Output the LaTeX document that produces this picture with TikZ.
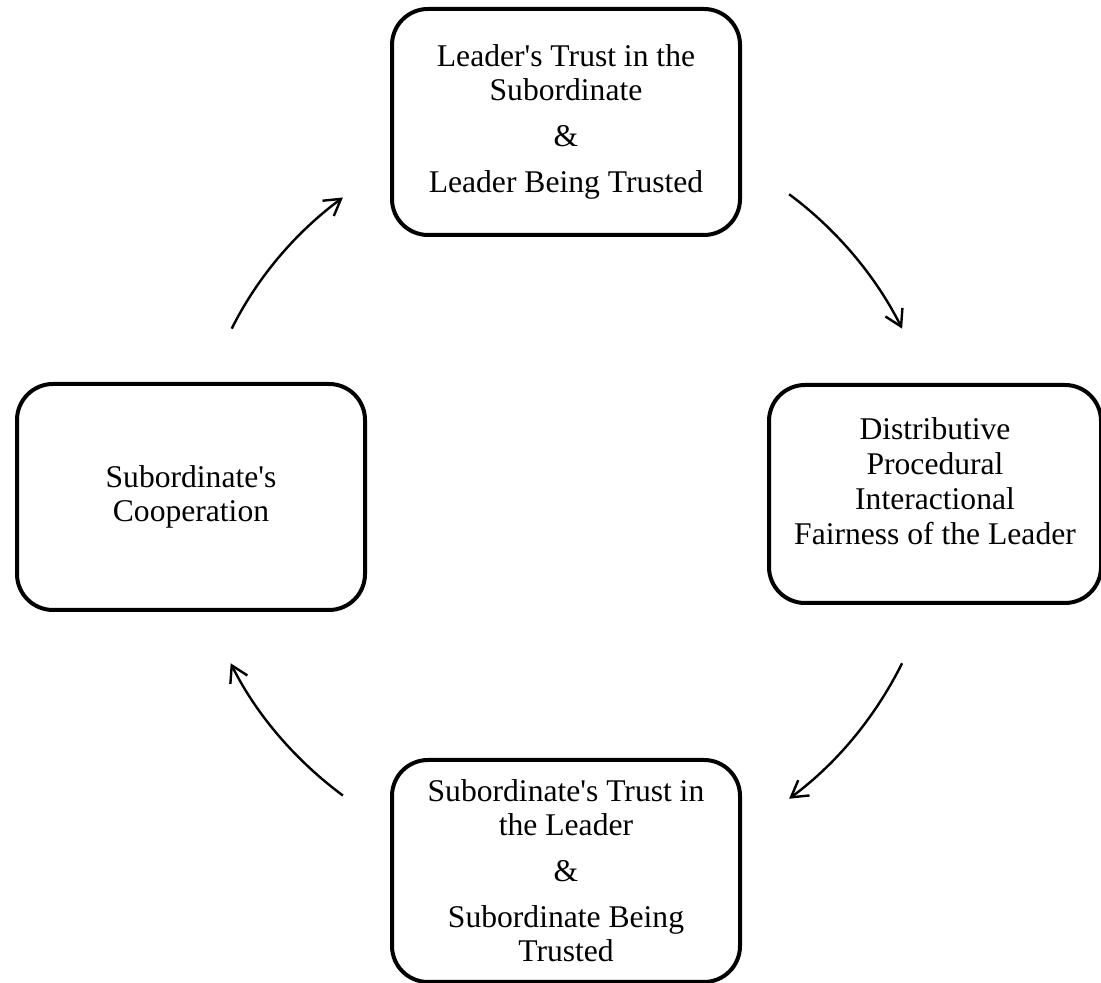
\documentclass[tikz,border=0pt]{standalone}
\usepackage{fontspec}
\setmainfont{Liberation Serif}
\usetikzlibrary{arrows.meta}
\newcommand{\aps}{\textquotesingle}

\begin{document}
\begin{tikzpicture}[x=0.5pt,y=0.5pt,
  box/.style={draw, line width=2pt, rounded corners=18pt, align=center,
    minimum width=174pt, minimum height=113pt, inner sep=0pt,
    font=\fontsize{15.8}{17}\selectfont},
  flow/.style={draw, line width=1.2pt, ->, >={Straight Barb[length=8pt,width=9.5pt]}}]
\useasboundingbox (0,0) rectangle (1101,983);
\node[box] (leader) at (566,861) {Leader\aps s Trust in the\\ Subordinate\\[6pt] \&\\[6pt] Leader Being Trusted};
\node[box, minimum width=166pt, minimum height=109pt, text depth=12.5pt,
  font=\fontsize{15.8}{17.5}\selectfont] (fairness) at (935,489) {Distributive\\ Procedural\\ Interactional\\ Fairness of the Leader};
\node[box, minimum height=111pt] (subtrust) at (566,112) {Subordinate\aps s Trust in\\ the Leader\\[6pt] \&\\[6pt] Subordinate Being\\ Trusted};
\node[box] (coop) at (191,486) {Subordinate\aps s\\ Cooperation};
% clockwise arrows
\draw[flow, shorten <=29.3pt, shorten >=30.35pt] (leader.-12.1) to[out=-36.5, in=116.5, looseness=1.04] (fairness.93.2);
\draw[flow, shorten <=32.55pt, shorten >=29.3pt] (fairness.-92.2) to[out=-116.5, in=36.5, looseness=1.05] (subtrust.12.4);
\draw[flow, shorten <=29.3pt, shorten >=28.65pt] (subtrust.167.6) to[out=143.5, in=-63.5, looseness=1.04] (coop.-83.2);
\draw[flow, shorten <=29.8pt, shorten >=29.3pt] (coop.83.6) to[out=63.5, in=-143.5, looseness=1.045] (leader.-167.9);
\end{tikzpicture}
\end{document}
